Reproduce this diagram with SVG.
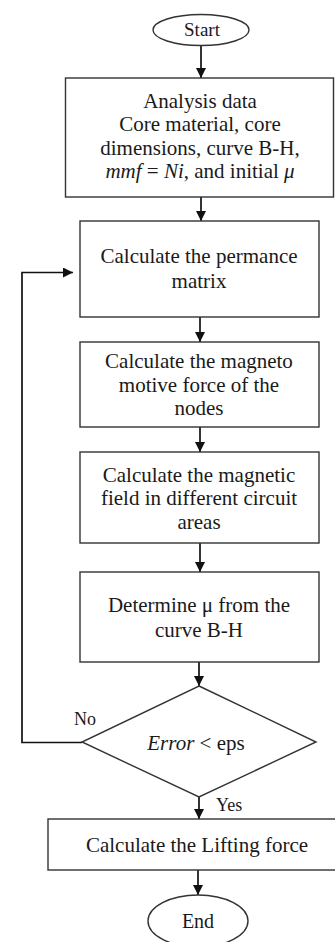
<svg xmlns="http://www.w3.org/2000/svg" width="335" height="942" viewBox="0 0 335 942">
<style>
.box{fill:#fff;stroke:#333;stroke-width:1.4}
.t{font-family:"Liberation Serif","Times New Roman",serif;font-size:21px;fill:#1a1a1a;text-anchor:middle}
.lbl{font-family:"Liberation Serif","Times New Roman",serif;font-size:18px;fill:#1a1a1a}
.i{font-style:italic}
.c{fill:none;stroke:#111;stroke-width:1.7}
</style>
<defs>
<marker id="ah" markerUnits="userSpaceOnUse" markerWidth="11" markerHeight="10" refX="10" refY="5" orient="auto" viewBox="0 0 11 10">
<path d="M0,0 L10,5 L0,10 z" fill="#111"/>
</marker>
</defs>
<rect width="335" height="942" fill="#fff"/>
<g id="connectors">
<line class="c" x1="201" y1="45.5" x2="201" y2="78" marker-end="url(#ah)"/>
<line class="c" x1="201" y1="197" x2="201" y2="221" marker-end="url(#ah)"/>
<line class="c" x1="200" y1="317" x2="200" y2="342" marker-end="url(#ah)"/>
<line class="c" x1="200" y1="427" x2="200" y2="452" marker-end="url(#ah)"/>
<line class="c" x1="200" y1="543" x2="200" y2="572" marker-end="url(#ah)"/>
<line class="c" x1="199" y1="662" x2="199" y2="686" marker-end="url(#ah)"/>
<line class="c" x1="199" y1="797" x2="199" y2="819" marker-end="url(#ah)"/>
<line class="c" x1="198" y1="870" x2="198" y2="895" marker-end="url(#ah)"/>
<polyline class="c" points="82,742.5 22,742.5 22,272.5 73,272.5" marker-end="url(#ah)"/>
<text class="lbl" x="74" y="725">No</text>
<text class="lbl" x="216" y="811">Yes</text>
</g>
<g id="start">
<ellipse class="box" cx="201" cy="30" rx="48" ry="15.5"/>
<text class="t" x="202" y="36" style="font-size:19px">Start</text>
</g>
<g id="analysis">
<rect class="box" x="65.5" y="78" width="268" height="119"/>
<text class="t" x="200" y="107.5">Analysis data</text>
<text class="t" x="200" y="131">Core material, core</text>
<text class="t" x="200" y="154.5">dimensions, curve B-H,</text>
<text class="t" x="200" y="177.5"><tspan class="i">mmf</tspan> = <tspan class="i">Ni</tspan>, and initial <tspan class="i">μ</tspan></text>
</g>
<g id="permance">
<rect class="box" x="80" y="221" width="239" height="96"/>
<text class="t" x="199" y="263">Calculate the permance</text>
<text class="t" x="199" y="288">matrix</text>
</g>
<g id="mmf">
<rect class="box" x="80" y="342" width="239" height="85"/>
<text class="t" x="199" y="368">Calculate the magneto</text>
<text class="t" x="199" y="392">motive force of the</text>
<text class="t" x="199" y="415">nodes</text>
</g>
<g id="field">
<rect class="box" x="80" y="452" width="239" height="91"/>
<text class="t" x="199" y="482">Calculate the magnetic</text>
<text class="t" x="199" y="505">field in different circuit</text>
<text class="t" x="199" y="529">areas</text>
</g>
<g id="mu">
<rect class="box" x="80" y="572" width="239" height="90"/>
<text class="t" x="199" y="612">Determine μ from the</text>
<text class="t" x="199" y="637">curve B-H</text>
</g>
<g id="decision">
<polygon class="box" points="199,686 316,742 199,797 82,742"/>
<text class="t" x="196" y="750"><tspan class="i">Error</tspan> &lt; eps</text>
</g>
<g id="lifting">
<rect class="box" x="48" y="819" width="300" height="51"/>
<text class="t" x="197" y="852">Calculate the Lifting force</text>
</g>
<g id="end">
<ellipse class="box" cx="198" cy="921" rx="50" ry="26"/>
<text class="t" x="198" y="928" style="font-size:20px">End</text>
</g>
</svg>
